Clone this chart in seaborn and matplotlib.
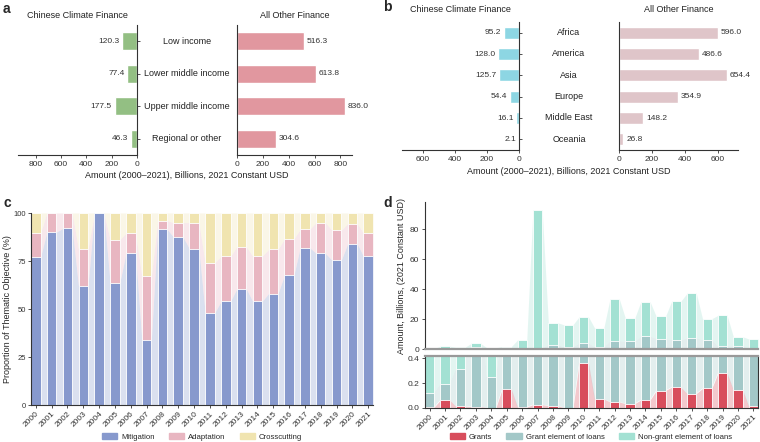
import matplotlib
matplotlib.use("Agg")
import matplotlib.pyplot as plt
import matplotlib.transforms as mtransforms
from matplotlib.patches import Patch
import numpy as np
import seaborn as sns

sns.set_style("ticks")
plt.rcParams["font.family"] = ["Liberation Sans", "DejaVu Sans"]
plt.rcParams["axes.linewidth"] = 0.8
plt.rcParams["axes.edgecolor"] = "#333333"
plt.rcParams["xtick.major.size"] = 2.5
plt.rcParams["ytick.major.size"] = 2.5
plt.rcParams["xtick.major.width"] = 0.6
plt.rcParams["ytick.major.width"] = 0.6
plt.rcParams["xtick.color"] = "#333333"
plt.rcParams["ytick.color"] = "#333333"

# ================ Data ================
income_groups = ["Low income", "Lower middle income", "Upper middle income", "Regional or other"]
china_income = [120.3, 77.4, 177.5, 46.3]
other_income = [516.3, 613.8, 836.0, 304.6]

regions = ["Africa", "America", "Asia", "Europe", "Middle East", "Oceania"]
china_region = [95.2, 128.0, 125.7, 54.4, 16.1, 2.1]
other_region = [596.0, 486.6, 654.4, 354.9, 148.2, 26.8]

years = [str(y) for y in range(2000, 2022)]
mitigation = [77, 90, 92, 62, 100, 63.5, 79, 34, 91.5, 87.5, 81.5,
              48, 54, 60.5, 54, 58, 67.5, 82, 79, 75.5, 84, 77.5]
adaptation = [12.5, 10, 8, 19, 0, 22.5, 10.5, 33, 4.5, 7.5, 13.5,
              26, 23.5, 22, 23.5, 23, 19, 9.5, 16, 15.5, 10.5, 12]
crosscutting = [10.5, 0, 0, 19, 0, 14, 10.5, 33, 4, 5, 5,
                26, 22.5, 17.5, 22.5, 19, 13.5, 8.5, 5, 9, 5.5, 10.5]

grants = [0.008, 0.065, 0.014, 0.011, 0.003, 0.152, 0.008, 0.027, 0.019, 0.003, 0.365,
          0.073, 0.049, 0.035, 0.065, 0.141, 0.169, 0.117, 0.158, 0.28, 0.147, 0.014]
grant_loans = [0.117, 0.128, 0.299, 0.99, 0.247, 0.45, 0.69, 0.77, 2.88, 1.5, 3.64,
               1.43, 5.45, 5.07, 8.54, 6.76, 6.03, 7.38, 6.04, 1.52, 1.85, 0.89]
nongrant_loans = [0.38, 1.61, 0.89, 2.8, 0.65, 1.0, 5.3, 92.1, 14.6, 14.7, 17.5,
                  12.5, 28.0, 15.3, 22.9, 14.8, 25.7, 29.7, 14.0, 20.6, 6.2, 5.8]

GREEN, PINK = "#93bf83", "#e1979f"
CYAN, LPINK = "#8dd6e3", "#dfc5c9"
C_MIT, C_ADA, C_CRO = "#8799cd", "#e8b6c1", "#f0e4b0"
C_GR, C_GL, C_NG = "#d84d5c", "#a3c8c8", "#a3e1d3"

TICK_FS, LAB_FS, LEG_FS = 6, 6.5, 5.6

fig = plt.figure(figsize=(7.6, 4.42), dpi=100)


def rect(x0, y0, x1, y1):
    return [x0 / 760, 1 - y1 / 442, (x1 - x0) / 760, (y1 - y0) / 442]


# ================ Panels a / b: butterfly bars ================
def butterfly(box_l, box_r, cats, left_vals, right_vals, c_left, c_right,
              lim_l, lim_r, ticks_l, ticks_r, label_x, xlabel_y, title_y):
    axl = fig.add_axes(rect(*box_l))
    axr = fig.add_axes(rect(*box_r))
    sns.barplot(x=left_vals, y=cats, orient="h", color=c_left, width=0.55,
                saturation=1, ax=axl)
    sns.barplot(x=right_vals, y=cats, orient="h", color=c_right, width=0.55,
                saturation=1, ax=axr)
    n = len(cats)
    for ax in (axl, axr):
        ax.set_ylim(n - 0.5, -0.5)
        ax.set_xlabel("")
        ax.set_ylabel("")
        ax.tick_params(labelsize=TICK_FS, pad=1.5)
    axl.set_xlim(lim_l, 0)
    axr.set_xlim(0, lim_r)
    axl.set_xticks(ticks_l)
    axr.set_xticks(ticks_r)
    sns.despine(ax=axl, left=True, right=False)
    sns.despine(ax=axr)
    axl.yaxis.tick_right()
    axl.set_yticks(range(n))
    axl.set_yticklabels([])
    axr.set_yticks(range(n))
    axr.set_yticklabels([])
    axr.tick_params(axis="y", length=0)
    for i, v in enumerate(left_vals):
        axl.annotate(f"{v:.1f}", (v, i), xytext=(-2, 0), textcoords="offset points",
                     ha="right", va="center", fontsize=TICK_FS, color="#333333")
    for i, v in enumerate(right_vals):
        axr.annotate(f"{v:.1f}", (v, i), xytext=(2, 0), textcoords="offset points",
                     ha="left", va="center", fontsize=TICK_FS, color="#333333")
    tr = mtransforms.blended_transform_factory(fig.transFigure, axl.transData)
    for i, c in enumerate(cats):
        axl.text(label_x / 760, i, c, transform=tr, ha="center", va="center",
                 fontsize=LAB_FS, color="#222222")
    fig.text(label_x / 760, 1 - xlabel_y / 442,
             "Amount (2000\u20132021), Billions, 2021 Constant USD",
             ha="center", va="center", fontsize=LAB_FS, color="#222222")
    for ax, t in ((axl, "Chinese Climate Finance"), (axr, "All Other Finance")):
        cx = ax.get_position().x0 + ax.get_position().width / 2
        fig.text(cx, 1 - title_y / 442, t, ha="center", va="center",
                 fontsize=LAB_FS, color="#222222")


butterfly((18, 25, 137, 155), (237, 25, 352, 155), income_groups, china_income,
          other_income, GREEN, PINK, 940, 890, [800, 600, 400, 200, 0],
          [0, 200, 400, 600, 800], 187, 176, 16)
butterfly((402, 22, 519, 150), (619, 22, 738, 150), regions, china_region,
          other_region, CYAN, LPINK, 730, 720, [600, 400, 200, 0],
          [0, 200, 400, 600], 569, 171, 10)


# ================ Stacked bars with connecting shade ================
def step_xy(vals, w=0.6):
    xs, ys = [], []
    for i, v in enumerate(vals):
        xs += [i - w / 2, i + w / 2]
        ys += [v, v]
    return np.array(xs), np.array(ys)


def stacked(ax, layers, colors):
    cum = np.cumsum(np.array(layers), axis=0)
    lower = np.zeros(len(years))
    for k in range(len(layers)):
        xs, lo = step_xy(lower)
        _, hi = step_xy(cum[k])
        ax.fill_between(xs, lo, hi, color=colors[k], alpha=0.3, lw=0, zorder=0)
        lower = cum[k]
    for k in reversed(range(len(layers))):
        sns.barplot(x=years, y=cum[k], color=colors[k], width=0.6, saturation=1,
                    edgecolor="white", linewidth=0.6, ax=ax, zorder=2)
    ax.set_xlim(-0.3, len(years) - 0.7)
    ax.set_xlabel("")


def rotate_xlabels(ax):
    ax.tick_params(axis="x", rotation=45)
    for lab in ax.get_xticklabels():
        lab.set_ha("right")
        lab.set_rotation_mode("anchor")


axc = fig.add_axes(rect(31, 213, 373, 405))
stacked(axc, [mitigation, adaptation, crosscutting], [C_MIT, C_ADA, C_CRO])
axc.set_ylim(0, 100)
axc.set_yticks([0, 25, 50, 75, 100])
axc.set_ylabel("Proportion of Thematic Objective (%)", fontsize=LAB_FS, labelpad=1)
axc.tick_params(labelsize=TICK_FS, pad=1.2)
axc.tick_params(axis="y", labelsize=5.5)
rotate_xlabels(axc)
sns.despine(ax=axc)

leg_kw = dict(loc="center", ncol=3, frameon=False, fontsize=LEG_FS,
              handlelength=2.0, handleheight=0.75, columnspacing=1.8,
              handletextpad=0.5)
fig.legend(handles=[Patch(color=C_MIT, label="Mitigation"),
                    Patch(color=C_ADA, label="Adaptation"),
                    Patch(color=C_CRO, label="Crosscutting")],
           bbox_to_anchor=(202 / 760, 1 - 437 / 442), **leg_kw)

# ================ Panel d: broken axis ================
axd_top = fig.add_axes(rect(425, 202, 758, 349))
axd_bot = fig.add_axes(rect(425, 356, 758, 408))
for ax in (axd_top, axd_bot):
    stacked(ax, [grants, grant_loans, nongrant_loans], [C_GR, C_GL, C_NG])
    ax.tick_params(labelsize=TICK_FS, pad=1.5)
    ax.set_ylabel("")

axd_top.set_ylim(0, 98)
axd_top.set_yticks([0, 20, 40, 60, 80])
axd_top.set_xticks([])
sns.despine(ax=axd_top)
axd_top.spines["bottom"].set_color("#999999")
axd_top.spines["bottom"].set_linewidth(1.6)
axd_top.set_ylabel("Amount, Billions, (2021 Constant USD)", fontsize=LAB_FS, labelpad=3)

axd_bot.set_ylim(0, 0.42)
axd_bot.set_yticks([0, 0.2, 0.4])
axd_bot.set_yticklabels(["0.0", "0.2", "0.4"])
axd_bot.spines["top"].set_color("#999999")
axd_bot.spines["top"].set_linewidth(1.6)
rotate_xlabels(axd_bot)

fig.legend(handles=[Patch(color=C_GR, label="Grants"),
                    Patch(color=C_GL, label="Grant element of loans"),
                    Patch(color=C_NG, label="Non-grant element of loans")],
           bbox_to_anchor=(591 / 760, 1 - 437 / 442), **leg_kw)

# ================ Panel letters ================
for x, y, s in ((3, 9, "a"), (383, 7, "b"), (3, 203, "c"), (383, 203, "d")):
    fig.text(x / 760, 1 - y / 442, s, fontsize=10, fontweight="bold",
             ha="left", va="center")

fig.savefig("out.png", dpi=100)
